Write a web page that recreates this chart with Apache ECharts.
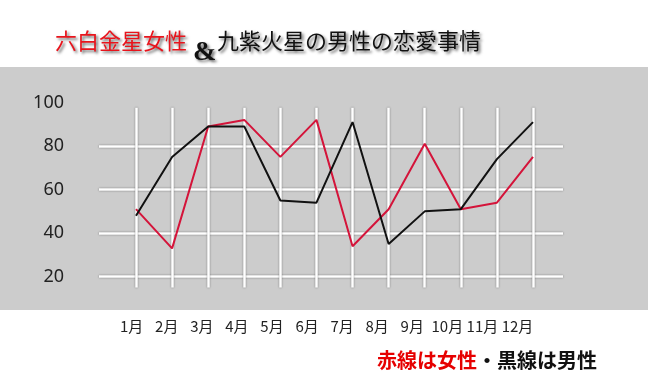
<!DOCTYPE html>
<html><head><meta charset="utf-8">
<script src="https://cdn.jsdelivr.net/npm/echarts@6/dist/echarts.min.js"></script>
<style>html,body{margin:0;padding:0;background:#fff}#c{width:648px;height:388px}</style>
</head><body><div id="c"></div>
<script>
const months = ['1月','2月','3月','4月','5月','6月','7月','8月','9月','10月','11月','12月'];
const female = [51, 33, 89, 92, 75, 92, 34, 51, 81, 51, 54, 75];
const male   = [48, 75, 89, 89, 55, 54, 91, 35, 50, 51, 74, 91];
const yTickLabels = [20, 40, 60, 80, 100];

const gridLine = {color: '#ffffff', width: 2.5, shadowColor: 'rgba(0,0,0,0.45)', shadowBlur: 2};
const shadow = {textShadowColor: 'rgba(0,0,0,0.6)', textShadowBlur: 3, textShadowOffsetX: 2, textShadowOffsetY: 2};
const chart = echarts.init(document.getElementById('c'), null, {renderer: 'canvas'});
chart.setOption({
  backgroundColor: '#ffffff',
  animation: false,
  graphic: [{type: 'rect', z: -10, shape: {x: 0, y: 67, width: 648, height: 243}, style: {fill: '#cccccc'}}],
  title: [
    {text: '六白金星女性', left: 50, top: 25, textStyle: Object.assign({color: '#e8141c', fontSize: 22, fontWeight: 'normal', fontFamily: 'Noto Sans CJK JP'}, shadow)},
    {text: '&', left: 188, top: 34, textStyle: Object.assign({color: '#111', fontSize: 28, fontWeight: 'bold', fontFamily: 'Liberation Serif'}, shadow)},
    {text: '九紫火星の男性の恋愛事情', left: 212, top: 25, textStyle: Object.assign({color: '#111', fontSize: 22, fontWeight: 'normal', fontFamily: 'Noto Sans CJK JP'}, shadow)},
    {text: '{r|赤線は女性}{k|・黒線は男性}', left: 372, top: 345, textStyle: {rich: {
      r: {color: '#e60000', fontSize: 20, fontWeight: 'bold', fontFamily: 'Noto Sans CJK JP'},
      k: {color: '#111', fontSize: 20, fontWeight: 'bold', fontFamily: 'Noto Sans CJK JP'}}}}
  ],
  grid: [
    {left: 99, right: 85, top: 102.4, bottom: 67.7},
    {left: 136, right: 115, top: 107.7, bottom: 100.4},
    {left: 131.7, right: 130.5, top: 100, bottom: 72}
  ],
  xAxis: [
    {gridIndex: 0, type: 'category', data: months, show: false},
    {gridIndex: 1, type: 'category', data: months, boundaryGap: false,
      axisLine: {show: false}, axisTick: {show: false}, axisLabel: {show: false},
      splitLine: {show: true, interval: 0, lineStyle: gridLine}},
    {gridIndex: 2, type: 'category', data: months, boundaryGap: false,
      axisLine: {show: false}, axisTick: {show: false}, splitLine: {show: false},
      axisLabel: {interval: 0, margin: 3, fontSize: 15, color: '#222', fontFamily: 'Noto Sans CJK JP'}}
  ],
  yAxis: [
    {gridIndex: 0, type: 'value', min: 0, max: 100, interval: 20,
      axisLine: {show: false}, axisTick: {show: false},
      axisLabel: {customValues: yTickLabels, margin: 35, fontSize: 18, color: '#222', fontFamily: 'Noto Sans'},
      splitLine: {show: true, showMinLine: false, showMaxLine: false, lineStyle: gridLine}},
    {gridIndex: 1, type: 'value', min: 15, max: 97.6, show: false},
    {gridIndex: 2, type: 'value', show: false}
  ],
  series: [
    {name: '女性', type: 'line', xAxisIndex: 1, yAxisIndex: 1, data: female, showSymbol: false,
      lineStyle: {color: '#d4143a', width: 2}, itemStyle: {color: '#d4143a'}},
    {name: '男性', type: 'line', xAxisIndex: 1, yAxisIndex: 1, data: male, showSymbol: false,
      lineStyle: {color: '#111111', width: 2}, itemStyle: {color: '#111111'}}
  ]
});
</script>
</body></html>
